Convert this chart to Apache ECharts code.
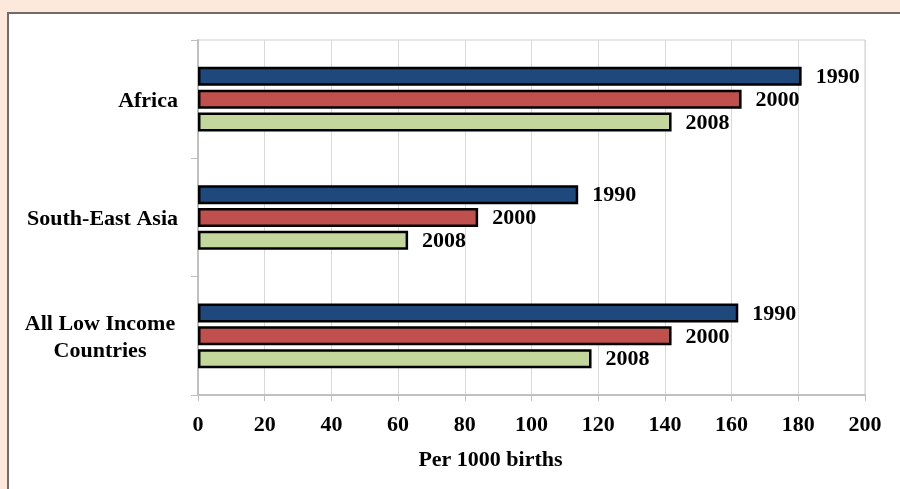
<!DOCTYPE html>
<html>
<head>
<meta charset="utf-8">
<script src="https://cdn.jsdelivr.net/npm/echarts@6/dist/echarts.min.js"></script>
<style>
  html, body { margin: 0; padding: 0; background: #fce9dc; overflow: hidden; }
  #panel { position: absolute; left: 7px; top: 12px; width: 900px; height: 500px;
           background: #ffffff; border-left: 2px solid #726b68; border-top: 2px solid #726b68; }
  #chart { position: absolute; left: 0; top: 0; width: 900px; height: 489px; }
</style>
</head>
<body>
<div id="panel"></div>
<div id="chart"></div>
<script>
// Under-five mortality rates, per 1000 live births
const regions = ['Africa', 'South-East Asia', 'All Low Income Countries'];
const years = ['1990', '2000', '2008'];
const rate1990 = [181, 114, 162];
const rate2000 = [163, 84, 142];
const rate2008 = [142, 63, 118];
const xTicks = [0, 20, 40, 60, 80, 100, 120, 140, 160, 180, 200];

const colors = ['#1f497d', '#c0504d', '#c3d69b'];
const serif = '"Liberation Serif", "Times New Roman", serif';
const fs = 22;

function barSeries(name, values, color) {
  return {
    name: name,
    type: 'bar',
    data: values,
    barWidth: 19,
    barGap: '20%',
    itemStyle: { color: color, borderColor: '#000000', borderWidth: 2.5 },
    label: {
      show: true,
      position: 'right',
      distance: 14,
      offset: [0, 1],
      formatter: '{a}',
      fontFamily: serif,
      fontWeight: 'bold',
      fontSize: fs,
      color: '#000000'
    }
  };
}

const chart = echarts.init(document.getElementById('chart'), null, { renderer: 'canvas' });
chart.setOption({
  backgroundColor: 'transparent',
  animation: false,
  grid: {
    left: 198, right: 35, top: 40, bottom: 94,
    show: true, borderColor: '#cfcfcf', borderWidth: 1
  },
  xAxis: {
    type: 'value',
    min: xTicks[0],
    max: xTicks[xTicks.length - 1],
    interval: xTicks[1] - xTicks[0],
    axisLine: { show: true, lineStyle: { color: '#c0c0c0', width: 2 } },
    axisTick: { show: true, length: 6, lineStyle: { color: '#c0c0c0' } },
    splitLine: { show: true, lineStyle: { color: '#d9d9d9', width: 1 } },
    axisLabel: {
      margin: 19,
      fontFamily: serif, fontWeight: 'bold', fontSize: fs, color: '#000000'
    },
    name: 'Per 1000 births',
    nameLocation: 'middle',
    nameGap: 54,
    nameTextStyle: {
      fontFamily: serif, fontWeight: 'bold', fontSize: fs, color: '#000000',
      padding: [0, 82, 0, 0]
    }
  },
  yAxis: {
    type: 'category',
    data: regions,
    inverse: true,
    axisLine: { show: true, lineStyle: { color: '#c0c0c0', width: 2 } },
    axisTick: { show: true, length: 7, lineStyle: { color: '#c0c0c0' } },
    axisLabel: {
      margin: 20,
      fontFamily: serif, fontWeight: 'bold', fontSize: fs, color: '#000000',
      lineHeight: 27,
      padding: [4, 0, 0, 0],
      formatter: function (v) {
        if (v === 'All Low Income Countries') {
          return '{c|All Low Income}\n{c|Countries}';
        }
        return v;
      },
      rich: {
        c: { width: 156, align: 'center', fontFamily: serif, fontWeight: 'bold',
             fontSize: fs, color: '#000000', lineHeight: 27 }
      }
    }
  },
  series: [
    barSeries(years[0], rate1990, colors[0]),
    barSeries(years[1], rate2000, colors[1]),
    barSeries(years[2], rate2008, colors[2])
  ]
});
</script>
</body>
</html>
